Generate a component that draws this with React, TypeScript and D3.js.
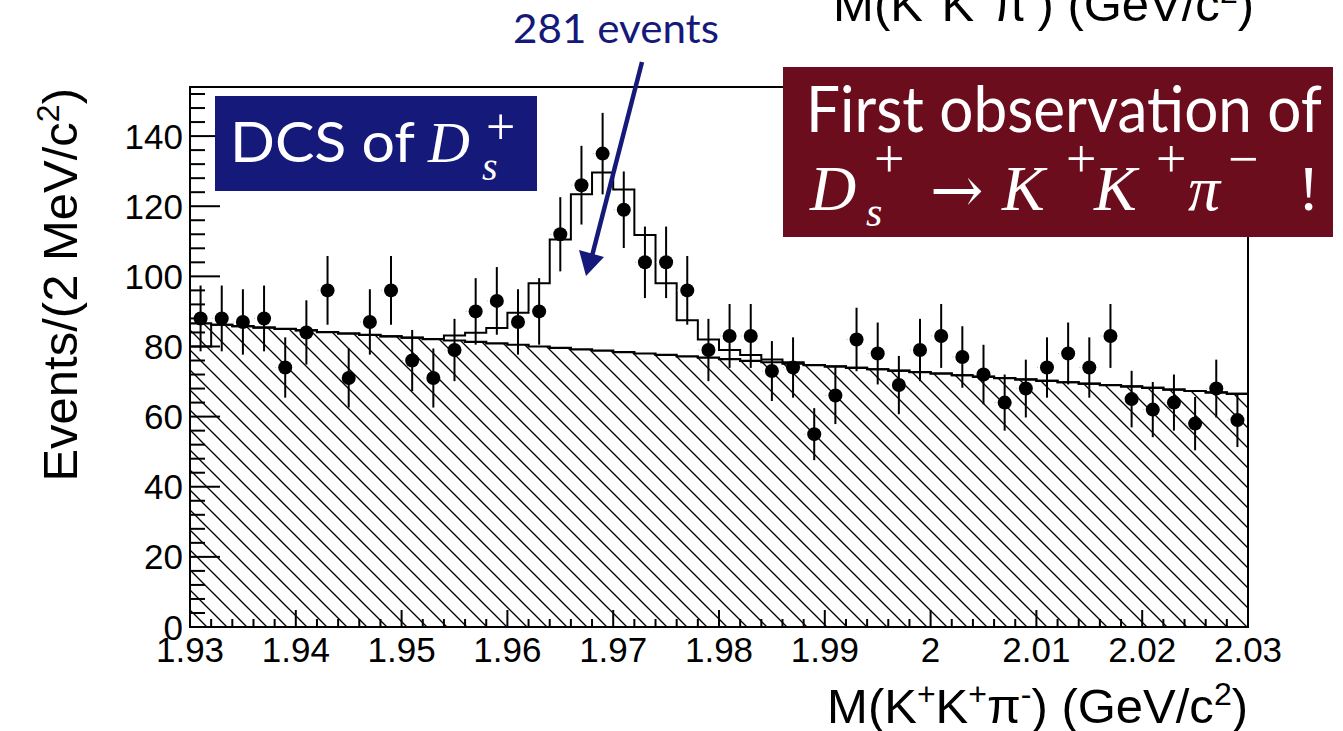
import React, { useEffect, useRef } from 'react';
import * as d3 from 'd3';

// mass window and binning (2 MeV bins)
const massLow = 1.93;
const massHigh = 2.03;
const binWidth = 0.002;
const yMax = 154;

// data points, one per bin
const counts = [
  88, 88, 87, 88, 74, 84, 96, 71, 87, 96,
  76, 71, 79, 90, 93, 87, 90, 112, 126, 135,
  119, 104, 104, 96, 79, 83, 83, 73, 74, 55,
  66, 82, 78, 69, 79, 83, 77, 72, 64, 68,
  74, 78, 74, 83, 65, 62, 64, 58, 68, 59,
];

// fitted background (hatched)
const background = [
  86.6, 86.2, 85.8, 85.4, 85.0, 84.6, 84.1, 83.7, 83.3, 82.9,
  82.5, 82.1, 81.7, 81.3, 80.9, 80.5, 80.0, 79.6, 79.2, 78.8,
  78.4, 78.0, 77.6, 77.2, 76.8, 76.4, 75.9, 75.5, 75.1, 74.7,
  74.3, 73.9, 73.5, 73.1, 72.7, 72.3, 71.8, 71.4, 71.0, 70.6,
  70.2, 69.8, 69.4, 69.0, 68.6, 68.2, 67.7, 67.3, 66.9, 66.5,
];

// fitted signal on top of background
const signal = [
  -6.6, 0, 0, 0, 0, 0, 0, 0, 0, 0,
  0, 0, 1.4, 2.6, 4.4, 9.1, 18, 30.9, 44.2, 50.8,
  46.4, 33.8, 20.4, 10.3, 5.2, 2.6, 1.7, 0.8, 0.4, 0,
  0, 0, 0, 0, 0, 0, 0, 0, 0, 0,
  0, 0, 0, 0, 0, 0, 0, 0, 0, 0,
];

const xTickValues = [1.93, 1.94, 1.95, 1.96, 1.97, 1.98, 1.99, 2.0, 2.01, 2.02, 2.03];
const xTickLabels = ['1.93', '1.94', '1.95', '1.96', '1.97', '1.98', '1.99', '2', '2.01', '2.02', '2.03'];
const yTickValues = [0, 20, 40, 60, 80, 100, 120, 140];
const yTickLabels = ['0', '20', '40', '60', '80', '100', '120', '140'];

const navy = '#15197a';
const wine = '#6c0d1e';
const sans = '"Liberation Sans", Arial, Helvetica, sans-serif';
const gill = 'Lato, "Open Sans", sans-serif';
const serif = '"Liberation Serif", "DejaVu Serif", serif';

const App = () => {
  const ref = useRef<SVGSVGElement>(null);

  useEffect(() => {
    const svg = d3.select(ref.current);
    svg.selectAll('*').remove();

    const left = 190, right = 1248, top = 87, bottom = 627;

    const x = d3.scaleLinear().domain([massLow, massHigh]).range([left, right]);
    const y = d3.scaleLinear().domain([0, yMax]).range([bottom, top]);

    const edges = d3.range(counts.length + 1).map(i => massLow + i * binWidth);
    const centers = counts.map((_, i) => massLow + (i + 0.5) * binWidth);

    // hatch pattern "\\\\"
    const defs = svg.append('defs');
    const pat = defs.append('pattern')
      .attr('id', 'hatch')
      .attr('patternUnits', 'userSpaceOnUse')
      .attr('width', 20)
      .attr('height', 20);
    [[0, 0, 20, 20], [-10, 10, 10, 30], [10, -10, 30, 10]].forEach(([x1, y1, x2, y2]) => {
      pat.append('line')
        .attr('x1', x1).attr('y1', y1).attr('x2', x2).attr('y2', y2)
        .attr('stroke', '#000').attr('stroke-width', 1.3);
    });

    const stepPts = (vals: number[]) =>
      edges.map((e, i) => [e, vals[Math.min(i, vals.length - 1)]] as [number, number]);

    const bgPts = stepPts(background);
    const totPts = stepPts(background.map((b, i) => b + signal[i]));

    const area = d3.area<[number, number]>()
      .x(d => x(d[0]))
      .y0(y(0))
      .y1(d => y(d[1]))
      .curve(d3.curveStepAfter);

    const line = d3.line<[number, number]>()
      .x(d => x(d[0]))
      .y(d => y(d[1]))
      .curve(d3.curveStepAfter);

    svg.append('path')
      .attr('d', area(bgPts))
      .attr('fill', 'url(#hatch)');

    svg.append('path')
      .attr('d', line(bgPts))
      .attr('fill', 'none')
      .attr('stroke', '#000')
      .attr('stroke-width', 2.2);

    // total fit histogram, closed down to the background at the left edge
    svg.append('path')
      .attr('d', line(totPts))
      .attr('fill', 'none')
      .attr('stroke', '#000')
      .attr('stroke-width', 2);
    svg.append('line')
      .attr('x1', x(massLow)).attr('x2', x(massLow))
      .attr('y1', y(background[0])).attr('y2', y(background[0] + signal[0]))
      .attr('stroke', '#000').attr('stroke-width', 2);

    // data points
    const pts = svg.append('g');
    pts.selectAll('line.err')
      .data(counts)
      .enter().append('line')
      .attr('class', 'err')
      .attr('x1', (d, i) => x(centers[i]))
      .attr('x2', (d, i) => x(centers[i]))
      .attr('y1', d => y(d + Math.sqrt(d)))
      .attr('y2', d => y(d - Math.sqrt(d)))
      .attr('stroke', '#000')
      .attr('stroke-width', 2);
    pts.selectAll('line.xerr')
      .data(counts)
      .enter().append('line')
      .attr('class', 'xerr')
      .attr('x1', (d, i) => x(centers[i]) - 10)
      .attr('x2', (d, i) => x(centers[i]) + 10)
      .attr('y1', d => y(d))
      .attr('y2', d => y(d))
      .attr('stroke', '#bbb')
      .attr('stroke-width', 1)
      .attr('stroke-dasharray', '1 3');
    pts.selectAll('circle')
      .data(counts)
      .enter().append('circle')
      .attr('cx', (d, i) => x(centers[i]))
      .attr('cy', d => y(d))
      .attr('r', 7)
      .attr('fill', '#000');

    // frame
    svg.append('rect')
      .attr('x', left).attr('y', top)
      .attr('width', right - left).attr('height', bottom - top)
      .attr('fill', 'none')
      .attr('stroke', '#000')
      .attr('stroke-width', 2);

    // ticks (inside)
    const ticks = svg.append('g').attr('stroke', '#000').attr('stroke-width', 2);
    d3.range(0, 51).forEach(i => {
      const v = massLow + i * binWidth;
      const len = i % 5 === 0 ? 17 : 8;
      ticks.append('line')
        .attr('x1', x(v)).attr('x2', x(v))
        .attr('y1', bottom).attr('y2', bottom - len);
    });
    d3.range(0, 39).forEach(i => {
      const v = i * 4;
      const len = i % 5 === 0 ? 30 : 15;
      ticks.append('line')
        .attr('x1', left).attr('x2', left + len)
        .attr('y1', y(v)).attr('y2', y(v));
    });

    // tick labels
    svg.append('g')
      .selectAll('text')
      .data(xTickValues)
      .enter().append('text')
      .attr('x', d => x(d))
      .attr('y', 662)
      .attr('text-anchor', 'middle')
      .attr('font-family', sans)
      .attr('font-size', 35)
      .text((d, i) => xTickLabels[i]);

    svg.append('g')
      .selectAll('text')
      .data(yTickValues)
      .enter().append('text')
      .attr('x', 183)
      .attr('y', d => y(d))
      .attr('dy', '0.36em')
      .attr('text-anchor', 'end')
      .attr('font-family', sans)
      .attr('font-size', 35)
      .text((d, i) => yTickLabels[i]);

    // axis titles
    const massTitle = (sel: d3.Selection<SVGTextElement, unknown, null, undefined>) => {
      sel.append('tspan').text('M(K');
      sel.append('tspan').attr('dy', -18).attr('font-size', 32).text('+');
      sel.append('tspan').attr('dy', 18).text('K');
      sel.append('tspan').attr('dy', -18).attr('font-size', 32).text('+');
      sel.append('tspan').attr('dy', 18).text('\u03c0');
      sel.append('tspan').attr('dy', -18).attr('font-size', 32).text('-');
      sel.append('tspan').attr('dy', 18).text(') (GeV/c');
      sel.append('tspan').attr('dy', -18).attr('font-size', 32).text('2');
      sel.append('tspan').attr('dy', 18).text(')');
    };

    svg.append('text')
      .attr('x', right)
      .attr('y', 723)
      .attr('text-anchor', 'end')
      .attr('font-family', sans)
      .attr('font-size', 49)
      .call(massTitle);

    // same title from the plot above, cut by the page edge
    svg.append('text')
      .attr('x', 1254)
      .attr('y', 21)
      .attr('text-anchor', 'end')
      .attr('font-family', sans)
      .attr('font-size', 49)
      .call(massTitle);

    const yTitle = svg.append('text')
      .attr('transform', 'translate(77,88) rotate(-90)')
      .attr('text-anchor', 'end')
      .attr('font-family', sans)
      .attr('font-size', 49);
    yTitle.append('tspan').text('Events/(2 MeV/c');
    yTitle.append('tspan').attr('dy', -18).attr('font-size', 32).text('2');
    yTitle.append('tspan').attr('dy', 18).text(')');

    // "281 events" with arrow
    svg.append('text')
      .attr('x', 513)
      .attr('y', 43)
      .attr('fill', navy)
      .attr('font-family', gill)
      .attr('font-size', 40)
      .attr('textLength', 206)
      .attr('lengthAdjust', 'spacingAndGlyphs')
      .text('281 events');

    svg.append('line')
      .attr('x1', 642).attr('y1', 62)
      .attr('x2', 592).attr('y2', 256)
      .attr('stroke', navy)
      .attr('stroke-width', 4.5);
    svg.append('path')
      .attr('d', 'M586,276 L579,250 L604,257 Z')
      .attr('fill', navy);

    // DCS box
    svg.append('rect')
      .attr('x', 215).attr('y', 96)
      .attr('width', 322).attr('height', 95)
      .attr('fill', navy);
    svg.append('text')
      .attr('x', 230).attr('y', 162)
      .attr('fill', '#fff')
      .attr('font-family', gill)
      .attr('font-size', 57)
      .attr('textLength', 185)
      .attr('lengthAdjust', 'spacingAndGlyphs')
      .text('DCS of');
    const dcsMath = svg.append('text')
      .attr('fill', '#fff')
      .attr('font-family', serif);
    dcsMath.append('tspan').attr('x', 428).attr('y', 162).attr('font-size', 58).attr('font-style', 'italic').text('D');
    dcsMath.append('tspan').attr('x', 482).attr('y', 180).attr('font-size', 40).attr('font-style', 'italic').text('s');
    dcsMath.append('tspan').attr('x', 486).attr('y', 144).attr('font-size', 52).text('+');

    // first observation box
    svg.append('rect')
      .attr('x', 783).attr('y', 67)
      .attr('width', 550).attr('height', 170)
      .attr('fill', wine);
    svg.append('text')
      .attr('x', 806).attr('y', 132)
      .attr('fill', '#fff')
      .attr('font-family', gill)
      .attr('font-size', 63)
      .attr('textLength', 516)
      .attr('lengthAdjust', 'spacingAndGlyphs')
      .text('First observation of');
    const piece = (px: number, py: number, size: number, italic: boolean, t: string, fam = serif) =>
      svg.append('text')
        .attr('x', px).attr('y', py)
        .attr('fill', '#fff')
        .attr('font-family', fam)
        .attr('font-size', size)
        .attr('font-style', italic ? 'italic' : 'normal')
        .text(t);
    piece(810, 210, 64, true, 'D');
    piece(866, 226, 42, true, 's');
    piece(874, 177, 54, false, '+');
    piece(930, 212, 64, false, '\u2192', '"DejaVu Serif", serif');
    piece(1002, 210, 64, true, 'K');
    piece(1066, 177, 54, false, '+');
    piece(1094, 210, 64, true, 'K');
    piece(1156, 177, 54, false, '+');
    piece(1188, 210, 64, true, '\u03c0');
    piece(1228, 177, 54, false, '\u2212');
    piece(1298, 210, 64, false, '!');
  }, []);

  return (
    <svg
      ref={ref}
      width={1343}
      height={731}
      style={{ position: 'absolute', left: 0, top: 0, background: '#fff' }}
    />
  );
};

export default App;
